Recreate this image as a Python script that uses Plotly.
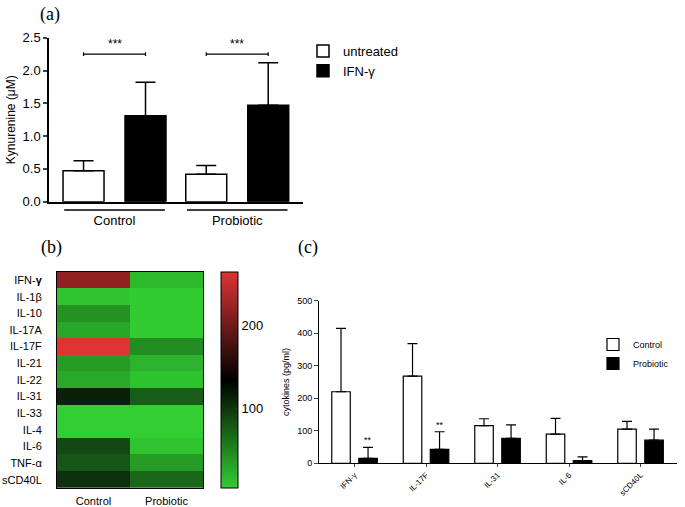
import plotly.graph_objects as go

W, H = 685, 507


def px(x):
    return x / W


def py(y):
    return 1 - y / H


FONT = "Arial, Liberation Sans, sans-serif"
SERIF = "Times New Roman, Liberation Serif, serif"

# ---------------- Panel (a) data ----------------
a_groups = ["Control", "Probiotic"]
a_untreated = [0.47, 0.42]
a_untreated_sd = [0.155, 0.13]
a_ifn = [1.31, 1.47]
a_ifn_sd = [0.51, 0.65]
a_yticks = [0.0, 0.5, 1.0, 1.5, 2.0, 2.5]
a_sig = ["***", "***"]

# ---------------- Panel (b) data ----------------
b_cytokines = ["IFN-<b>γ</b>", "IL-1β", "IL-10", "IL-17A", "IL-17F", "IL-21", "IL-22",
               "IL-31", "IL-33", "IL-4", "IL-6", "TNF-α", "sCD40L"]
b_conditions = ["Control", "Probiotic"]
b_control = [220, 8, 40, 28, 265, 34, 26, 113, 3, 3, 88, 80, 103]
b_probiotic = [15, 4, 4, 4, 45, 20, 10, 75, 3, 3, 8, 35, 68]
b_cbar_ticks = [100, 200]

# ---------------- Panel (c) data ----------------
c_cytokines = ["IFN-γ", "IL-17F", "IL-31", "IL-6", "sCD40L"]
c_control = [220, 268, 116, 90, 105]
c_control_sd = [195, 100, 21, 48, 24]
c_probiotic = [15, 43, 77, 8, 71]
c_probiotic_sd = [34, 54, 41, 12, 34]
c_sig = ["**", "**", "", "", ""]
c_yticks = [0, 100, 200, 300, 400, 500]

fig = go.Figure()

# ---------- (a) bars ----------
a_half = 0.2525
a_w = 0.334
fig.add_trace(go.Bar(
    x=a_groups, y=a_untreated, name="untreated",
    offset=-a_half - a_w / 2, width=a_w,
    marker=dict(color="white", line=dict(color="black", width=1.5)),
    error_y=dict(type="data", symmetric=False, array=a_untreated_sd,
                 arrayminus=[0] * len(a_untreated_sd), color="black", thickness=1.5, width=10),
    xaxis="x", yaxis="y", legend="legend",
))
fig.add_trace(go.Bar(
    x=a_groups, y=a_ifn, name="IFN-γ",
    offset=a_half - a_w / 2, width=a_w,
    marker=dict(color="black", line=dict(color="black", width=1.5)),
    error_y=dict(type="data", symmetric=False, array=a_ifn_sd,
                 arrayminus=[0] * len(a_ifn_sd), color="black", thickness=1.5, width=10),
    xaxis="x", yaxis="y", legend="legend",
))

# ---------- (b) heatmap ----------
z = [[c, p] for c, p in zip(b_control, b_probiotic)]
fig.add_trace(go.Heatmap(
    z=z, x=b_conditions, y=b_cytokines,
    colorscale=[[0, "rgb(50,205,50)"], [0.5, "rgb(0,0,0)"], [1, "rgb(222,52,52)"]],
    xaxis="x2", yaxis="y2", showscale=True,
    colorbar=dict(
        x=px(221), xanchor="left", y=py(488), yanchor="bottom",
        len=(488 - 271.7) / H, lenmode="fraction", thickness=17,
        outlinewidth=1, outlinecolor="black",
        tickvals=b_cbar_ticks, ticks="inside", ticklen=3, tickcolor="#333",
        tickfont=dict(family=FONT, size=13, color="black"), xpad=0, ypad=0,
    ),
    hoverinfo="skip",
))

# ---------- (c) bars ----------
c_half = 0.189
c_w = 0.259
fig.add_trace(go.Bar(
    x=c_cytokines, y=c_control, name="Control",
    offset=-c_half - c_w / 2, width=c_w,
    marker=dict(color="white", line=dict(color="black", width=1.2)),
    error_y=dict(type="data", symmetric=False, array=c_control_sd,
                 arrayminus=[0] * len(c_control_sd), color="black", thickness=1.2, width=5),
    xaxis="x3", yaxis="y3", legend="legend2",
))
fig.add_trace(go.Bar(
    x=c_cytokines, y=c_probiotic, name="Probiotic",
    offset=c_half - c_w / 2, width=c_w,
    marker=dict(color="black", line=dict(color="black", width=1.2)),
    error_y=dict(type="data", symmetric=False, array=c_probiotic_sd,
                 arrayminus=[0] * len(c_probiotic_sd), color="black", thickness=1.2, width=5),
    xaxis="x3", yaxis="y3", legend="legend2",
))

shapes = []
annotations = []

# (a) group underlines and significance brackets
for i, g in enumerate(a_groups):
    shapes.append(dict(type="line", xref="x", yref="paper", x0=i - 0.41, x1=i + 0.41,
                       y0=py(210), y1=py(210), line=dict(color="black", width=1.5)))
    ytop = 2.25
    shapes.append(dict(type="line", xref="x", yref="y", x0=i - a_half, x1=i + a_half,
                       y0=ytop, y1=ytop, line=dict(color="black", width=1.2)))
    for s in (-1, 1):
        shapes.append(dict(type="line", xref="x", yref="y", x0=i + s * a_half, x1=i + s * a_half,
                           y0=ytop - 0.03, y1=ytop + 0.03, line=dict(color="black", width=1.2)))
    annotations.append(dict(x=i, y=ytop, xref="x", yref="y", text=a_sig[i], showarrow=False,
                            yanchor="bottom", yshift=1, font=dict(family=FONT, size=12, color="black")))

# (c) significance stars
for i, s in enumerate(c_sig):
    if s:
        annotations.append(dict(x=i + c_half, y=c_probiotic[i] + c_probiotic_sd[i], xref="x3", yref="y3",
                                text=s, showarrow=False, yanchor="bottom", yshift=0,
                                font=dict(family=FONT, size=9, color="black")))

# panel labels
for lab, x, y in (("(a)", 50, 14), ("(b)", 51, 247), ("(c)", 308, 247)):
    annotations.append(dict(x=px(x), y=py(y), xref="paper", yref="paper", text=lab, showarrow=False,
                            xanchor="center", yanchor="middle",
                            font=dict(family=SERIF, size=18, color="black")))

fig.update_layout(
    width=W, height=H, autosize=False,
    margin=dict(l=0, r=0, t=0, b=0, autoexpand=False),
    paper_bgcolor="white", plot_bgcolor="white",
    barmode="overlay",
    font=dict(family=FONT, color="black"),
    shapes=shapes, annotations=annotations,
    xaxis=dict(domain=[px(49), px(303)], anchor="y", type="category", range=[-0.534, 1.536],
               showline=True, linecolor="black", linewidth=1.5, ticks="outside", ticklen=6,
               tickcolor="rgba(0,0,0,0)",
               tickfont=dict(size=13), showgrid=False, zeroline=False, automargin=False),
    yaxis=dict(domain=[py(201.7), py(37.7)], anchor="x", range=[0, 2.5], tickvals=a_yticks,
               tickformat=".1f", showline=True, linecolor="black", linewidth=1.5, ticks="outside",
               ticklen=4, tickwidth=1.5, tickfont=dict(size=13), showgrid=False, zeroline=False,
               automargin=False,
               title=dict(text="Kynurenine (μM)", font=dict(size=12), standoff=4)),
    xaxis2=dict(domain=[px(57), px(203)], anchor="y2", showline=True, mirror=True, linecolor="black",
                linewidth=1, ticks="outside", ticklen=3, tickcolor="rgba(0,0,0,0)",
                tickfont=dict(size=11), showgrid=False, zeroline=False, automargin=False),
    yaxis2=dict(domain=[py(488), py(271.7)], anchor="x2", autorange="reversed", showline=True,
                mirror=True, linecolor="black", linewidth=1, ticks="outside", ticklen=12,
                tickcolor="rgba(0,0,0,0)", tickfont=dict(size=11), showgrid=False, zeroline=False,
                automargin=False),
    xaxis3=dict(domain=[px(319), px(677)], anchor="y3", type="category", range=[-0.497, 4.51],
                showline=True, linecolor="black", linewidth=1, ticks="outside", ticklen=3,
                tickangle=-45, tickfont=dict(size=8), showgrid=False, zeroline=False,
                automargin=False),
    yaxis3=dict(domain=[py(463.3), py(300.7)], anchor="x3", range=[0, 500], tickvals=c_yticks,
                showline=True, linecolor="black", linewidth=1, ticks="outside", ticklen=4,
                tickfont=dict(size=9), showgrid=False, zeroline=False, automargin=False,
                title=dict(text="cytokines (pg/ml)", font=dict(size=9), standoff=6)),
    legend=dict(x=px(303), y=py(36), xanchor="left", yanchor="top", bgcolor="rgba(0,0,0,0)",
                font=dict(size=13), tracegroupgap=0, itemwidth=30),
    legend2=dict(x=px(593), y=py(330), xanchor="left", yanchor="top", bgcolor="rgba(0,0,0,0)",
                 font=dict(size=9), tracegroupgap=0, itemwidth=30),
)

fig.write_html("out.html", config={"displayModeBar": False},
               post_script="document.body.style.margin='0';")
